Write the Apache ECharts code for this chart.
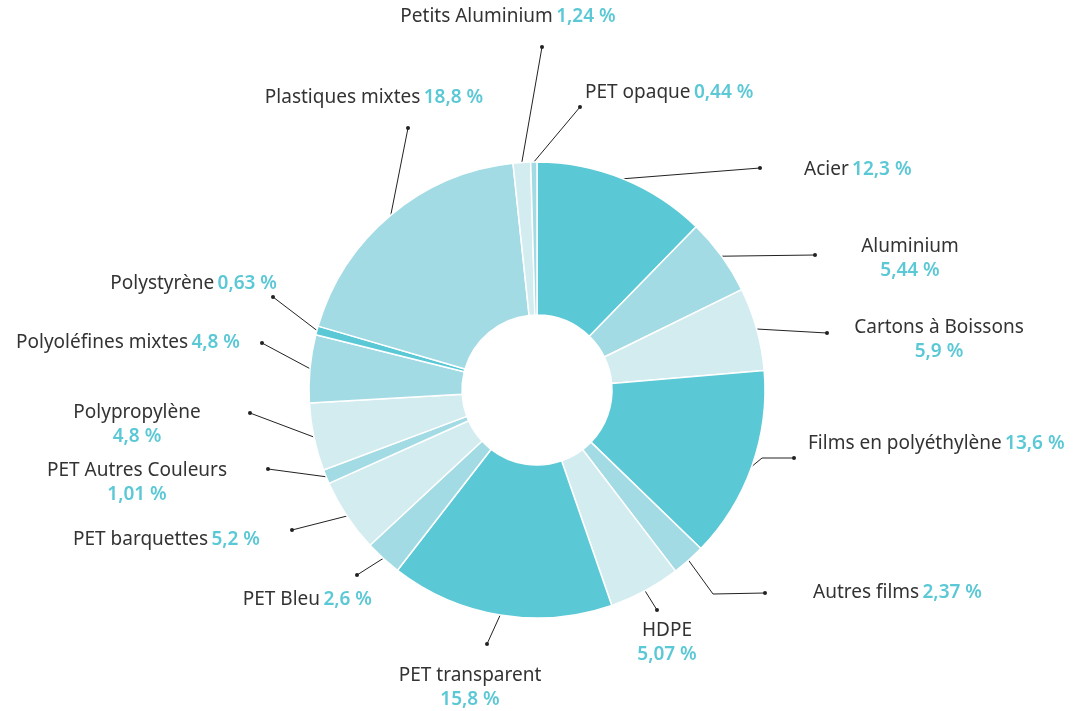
<!DOCTYPE html>
<html>
<head>
<meta charset="utf-8">
<script src="https://cdn.jsdelivr.net/npm/echarts@6/dist/echarts.min.js"></script>
<style>
  html, body { margin: 0; padding: 0; background: #fff; }
  #main { width: 1086px; height: 711px; }
</style>
</head>
<body>
<div id="main"></div>
<script>
    // données (%)
    const names = ['Acier', 'Aluminium', 'Cartons à Boissons', 'Films en polyéthylène', 'Autres films',
        'HDPE', 'PET transparent', 'PET Bleu', 'PET barquettes', 'PET Autres Couleurs',
        'Polypropylène', 'Polyoléfines mixtes', 'Polystyrène', 'Plastiques mixtes',
        'Petits Aluminium', 'PET opaque'];
    const values = [12.3, 5.44, 5.9, 13.6, 2.37, 5.07, 15.8, 2.6, 5.2, 1.01, 4.8, 4.8, 0.63, 18.8, 1.24, 0.44];

    // styles
    const palette = ['#5BC8D6', '#A3DBE5', '#D3ECF0'];
    const shade = [0, 1, 2, 0, 1, 2, 0, 1, 2, 1, 2, 1, 0, 1, 2, 1];

    // placement des étiquettes : [x, y, align, deux lignes]
    const labelAnchors = [
        [804, 170, 'left', false], [910, 259, 'center', true], [939, 340, 'center', true],
        [808, 444, 'left', false], [813, 593, 'left', false], [667, 643, 'center', true],
        [470, 688, 'center', true], [372, 600, 'right', false], [260, 540, 'right', false],
        [137, 483, 'center', true], [137, 425, 'center', true], [240, 343, 'right', false],
        [277, 284, 'right', false], [374, 98, 'center', false], [508, 17, 'center', false],
        [585, 93, 'left', false]
    ];
    // extrémités des traits (point noir)
    const lineEnds = [
        [760, 168], [815, 255], [827, 333], [794, 458], [765, 593], [657, 610], [487, 644],
        [357, 575], [292, 530], [268, 469], [250, 413], [262, 343], [273, 297], [408, 128],
        [542, 47], [580, 107]
    ];
    const lineBends = {3: [762, 458], 4: [713, 594]};

    const fmt = v => String(v).replace('.', ',') + ' %';

    const pieData = names.map((n, i) => ({
        name: n,
        value: values[i],
        itemStyle: {color: palette[shade[i]]}
    }));

    let myChart = echarts.init(document.getElementById('main'));

    myChart.setOption({
        backgroundColor: '#fff',
        animation: false,
        series: [
            {
                name: 'gisement',
                type: 'pie',
                center: [537, 390],
                radius: [75, 228],
                startAngle: 90,
                clockwise: true,
                avoidLabelOverlap: false,
                itemStyle: {borderColor: '#fff', borderWidth: 1.5},
                label: {
                    show: true,
                    formatter: p => {
                        const two = labelAnchors[p.dataIndex][3];
                        return '{n|' + p.name + '}' + (two ? '\n' : ' ') + '{v|' + fmt(p.value) + '}';
                    },
                    rich: {
                        n: {fontFamily: 'Noto Sans', fontSize: 19, color: '#333', lineHeight: 24},
                        v: {fontFamily: 'Noto Sans', fontSize: 19, fontWeight: 600, color: '#5BC8D6', lineHeight: 24}
                    }
                },
                labelLine: {show: true, lineStyle: {color: '#222', width: 1}},
                labelLayout: params => {
                    const i = params.dataIndex;
                    const a = labelAnchors[i];
                    const start = params.labelLinePoints ? params.labelLinePoints[0] : lineEnds[i];
                    const pts = [start];
                    if (lineBends[i]) pts.push(lineBends[i]);
                    pts.push(lineEnds[i]);
                    return {
                        x: a[0], y: a[1], align: a[2], verticalAlign: 'middle',
                        labelLinePoints: pts
                    };
                },
                emphasis: {disabled: true},
                data: pieData
            },
            {
                // petits points au bout des traits
                name: 'points',
                type: 'pie',
                silent: true,
                center: [537, 390],
                radius: [75, 228],
                startAngle: 90,
                avoidLabelOverlap: false,
                itemStyle: {color: 'rgba(255,255,255,0)', borderWidth: 0},
                label: {
                    show: true,
                    formatter: '{d|}',
                    rich: {d: {width: 4, height: 4, borderRadius: 2, backgroundColor: '#222'}}
                },
                labelLine: {show: false},
                labelLayout: params => ({
                    x: lineEnds[params.dataIndex][0],
                    y: lineEnds[params.dataIndex][1],
                    align: 'center', verticalAlign: 'middle'
                }),
                emphasis: {disabled: true},
                data: names.map((n, i) => ({name: n, value: values[i]}))
            }
        ]
    });
</script>
</body>
</html>
